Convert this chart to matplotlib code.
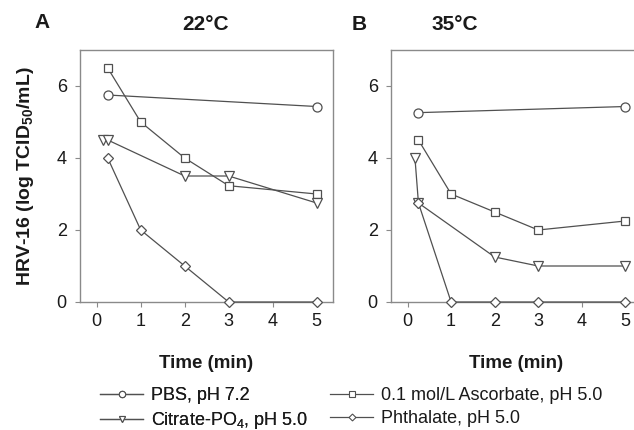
import matplotlib
matplotlib.use("Agg")
import matplotlib.pyplot as plt
from matplotlib.lines import Line2D

plt.rcParams['font.family'] = ['Liberation Sans', 'DejaVu Sans']
plt.rcParams['mathtext.fontset'] = 'custom'
plt.rcParams['mathtext.rm'] = 'Liberation Sans'
plt.rcParams['mathtext.bf'] = 'Liberation Sans:bold'

# ---- data ----
pbs_t_A = [0.25, 5]
pbs_A = [5.75, 5.43]
asc_t_A = [0.25, 1, 2, 3, 5]
asc_A = [6.5, 5.0, 4.0, 3.23, 3.0]
cit_t_A = [0.15, 0.25, 2, 3, 5]
cit_A = [4.5, 4.5, 3.5, 3.5, 2.75]
pht_t_A = [0.25, 1, 2, 3, 5]
pht_A = [4.0, 2.0, 1.0, 0.0, 0.0]

pbs_t_B = [0.25, 5]
pbs_B = [5.26, 5.43]
asc_t_B = [0.25, 1, 2, 3, 5]
asc_B = [4.5, 3.0, 2.5, 2.0, 2.25]
cit_t_B = [0.17, 0.25, 2, 3, 5]
cit_B = [4.0, 2.75, 1.25, 1.0, 1.0]
pht_t_B = [0.25, 1, 2, 3, 5]
pht_B = [2.75, 0.0, 0.0, 0.0, 0.0]

labels = ["PBS, pH 7.2", "Citrate-PO$_4$, pH 5.0",
          "0.1 mol/L Ascorbate, pH 5.0", "Phthalate, pH 5.0"]
xticks = [0, 1, 2, 3, 4, 5]
yticks = [0, 2, 4, 6]

LC = '#505050'
SP = '#8a8a8a'
TC = '#1a1a1a'
styles = {
    'pbs': dict(marker='o', ms=6.5),
    'cit': dict(marker='v', ms=6.5),
    'asc': dict(marker='s', ms=6),
    'pht': dict(marker='D', ms=5),
}

fig = plt.figure(figsize=(6.34, 4.30), dpi=100)
W, H = 634, 430
axA = fig.add_axes([80 / W, (430 - 302) / H, 252.5 / W, 252 / H])
axB = fig.add_axes([391 / W, (430 - 302) / H, 250 / W, 252 / H])

def draw(ax, sets):
    for key, t, y in sets:
        st = styles[key]
        ax.plot(t, y, color=LC, lw=0.9, marker=st['marker'], ms=st['ms'],
                mfc='white', mec=LC, mew=0.9, clip_on=False, zorder=3)
    ax.set_xlim(-0.38, 5.36)
    ax.set_ylim(0, 7)
    ax.set_xticks(xticks)
    ax.set_yticks(yticks)
    ax.tick_params(axis='both', direction='out', length=3.5, width=0.8,
                   color=SP, labelsize=13, labelcolor=TC)
    ax.tick_params(axis='y', pad=6)
    ax.tick_params(axis='x', pad=4.5)
    for s in ax.spines.values():
        s.set_color(SP)
        s.set_linewidth(1.0)
    ax.set_xlabel("Time (min)", fontsize=13.5, fontweight='bold', labelpad=18,
                  color=TC)

draw(axA, [('pbs', pbs_t_A, pbs_A), ('asc', asc_t_A, asc_A),
           ('cit', cit_t_A, cit_A), ('pht', pht_t_A, pht_A)])
draw(axB, [('pbs', pbs_t_B, pbs_B), ('asc', asc_t_B, asc_B),
           ('cit', cit_t_B, cit_B), ('pht', pht_t_B, pht_B)])

axA.set_ylabel(r"HRV-16 (log TCID$_{\mathbf{50}}$/mL)", fontsize=14,
               fontweight='bold', labelpad=15, color=TC)

fig.text(42 / W, 1 - 23 / H, "A", fontsize=15, fontweight='bold', ha='center', va='center', color=TC)
fig.text(206 / W, 1 - 24.5 / H, "22°C", fontsize=15, fontweight='bold', ha='center', va='center', color=TC)
fig.text(359 / W, 1 - 24.5 / H, "B", fontsize=15, fontweight='bold', ha='center', va='center', color=TC)
fig.text(455 / W, 1 - 24.5 / H, "35°C", fontsize=15, fontweight='bold', ha='center', va='center', color=TC)

def handle(key):
    st = styles[key]
    return Line2D([], [], color=LC, lw=0.9, marker=st['marker'], ms=st['ms'] * 0.7,
                  mfc='white', mec=LC, mew=0.8)

common = dict(loc='upper left', frameon=False, fontsize=13, handlelength=2.4,
              handletextpad=0.4, labelspacing=0.33, borderpad=0, borderaxespad=0,
              labelcolor=TC)
leg1 = fig.legend([handle('pbs'), handle('cit')], labels[:2],
                  bbox_to_anchor=(100 / W, 1 - 387 / H), **common)
leg2 = fig.legend([handle('asc'), handle('pht')], labels[2:],
                  bbox_to_anchor=(330 / W, 1 - 387 / H), **common)
fig.add_artist(leg1)

fig.savefig("out.png", dpi=100)
